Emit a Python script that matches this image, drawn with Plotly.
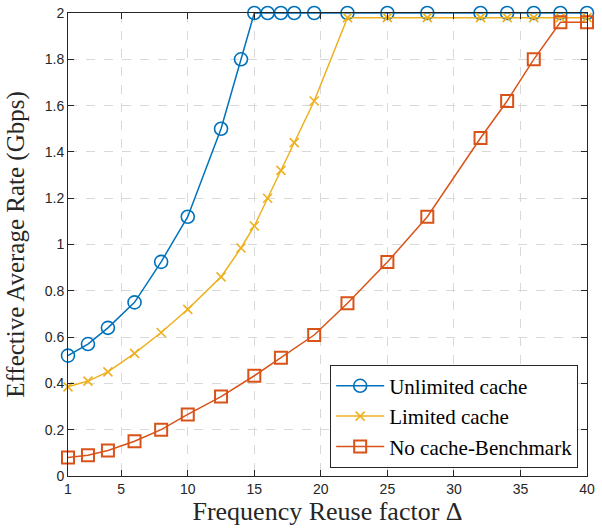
import plotly.graph_objects as go

# Frequency reuse factor values (x) and effective average rate (Gbps)
x_unlimited = [1, 2.5, 4, 6, 8, 10, 12.5, 14, 15, 16, 17, 18, 19.5, 22, 25, 28, 32, 34, 36, 38, 40]
y_unlimited = [0.52, 0.57, 0.64, 0.75, 0.925, 1.12, 1.50, 1.80, 2.0, 2.0, 2.0, 2.0, 2.0, 2.0,
               2.0, 2.0, 2.0, 2.0, 2.0, 2.0, 2.0]

x_limited = [1, 2.5, 4, 6, 8, 10, 12.5, 14, 15, 16, 17, 18, 19.5, 22, 25, 28, 32, 34, 36, 38, 40]
y_limited = [0.385, 0.41, 0.45, 0.53, 0.62, 0.72, 0.86, 0.985, 1.08, 1.20, 1.32, 1.44, 1.62,
             1.98, 1.98, 1.98, 1.98, 1.98, 1.98, 1.98, 1.98]

x_nocache = [1, 2.5, 4, 6, 8, 10, 12.5, 15, 17, 19.5, 22, 25, 28, 32, 34, 36, 38, 40]
y_nocache = [0.08, 0.09, 0.11, 0.15, 0.20, 0.266, 0.343, 0.433, 0.511, 0.609, 0.746, 0.924,
             1.12, 1.46, 1.62, 1.80, 1.96, 1.96]

x_ticks = [1, 5, 10, 15, 20, 25, 30, 35, 40]
y_ticks = [0, 0.2, 0.4, 0.6, 0.8, 1.0, 1.2, 1.4, 1.6, 1.8, 2.0]
y_tick_text = ["0", "0.2", "0.4", "0.6", "0.8", "1", "1.2", "1.4", "1.6", "1.8", "2"]

BLUE = "#0072BD"
YELLOW = "#EDB120"
ORANGE = "#D95319"
AXIS = "#262626"
SERIF = "Liberation Serif, DejaVu Serif, serif"
SANS = "Liberation Sans, Arial, sans-serif"

fig = go.Figure()
fig.add_trace(go.Scatter(
    x=x_unlimited, y=y_unlimited, name="Unlimited cache", mode="lines+markers",
    line=dict(color=BLUE, width=1.5),
    marker=dict(symbol="circle-open", size=13, color=BLUE, line=dict(width=1.6)),
    cliponaxis=False,
))
fig.add_trace(go.Scatter(
    x=x_limited, y=y_limited, name="Limited cache", mode="lines+markers",
    line=dict(color=YELLOW, width=1.5),
    marker=dict(symbol="x-thin-open", size=9, color=YELLOW, line=dict(width=1.6, color=YELLOW)),
    cliponaxis=False,
))
fig.add_trace(go.Scatter(
    x=x_nocache, y=y_nocache, name="No cache-Benchmark", mode="lines+markers",
    line=dict(color=ORANGE, width=1.5),
    marker=dict(symbol="square-open", size=12, color=ORANGE, line=dict(width=2)),
    cliponaxis=False,
))

fig.update_layout(
    width=602, height=531,
    margin=dict(l=68, r=15, t=13, b=55, autoexpand=False),
    paper_bgcolor="white", plot_bgcolor="white",
    showlegend=True,
    legend=dict(
        x=0.983, y=0.018, xanchor="right", yanchor="bottom",
        bgcolor="white", bordercolor=AXIS, borderwidth=1,
        font=dict(family=SERIF, size=21, color="black"),
        tracegroupgap=0, itemwidth=48,
    ),
    xaxis=dict(
        range=[1, 40], tickvals=x_ticks, ticks="inside", ticklen=6, tickcolor=AXIS,
        showline=True, linecolor=AXIS, linewidth=1, mirror="ticks",
        showgrid=True, gridcolor="#d9d9d9", griddash="dash", gridwidth=1,
        zeroline=False, automargin=False,
        tickfont=dict(family=SANS, size=14, color=AXIS),
        title=dict(text="Frequency Reuse factor Δ", font=dict(family=SERIF, size=26, color=AXIS),
                   standoff=5),
    ),
    yaxis=dict(
        range=[0, 2], tickvals=y_ticks, ticktext=y_tick_text, ticks="inside", ticklen=6,
        tickcolor=AXIS,
        showline=True, linecolor=AXIS, linewidth=1, mirror="ticks",
        showgrid=True, gridcolor="#d9d9d9", griddash="dash", gridwidth=1,
        zeroline=False, automargin=False,
        tickfont=dict(family=SANS, size=14, color=AXIS),
        title=dict(text="Effective Average Rate (Gbps)", font=dict(family=SERIF, size=25, color=AXIS),
                   standoff=12),
    ),
)

fig.write_html("out.html")
